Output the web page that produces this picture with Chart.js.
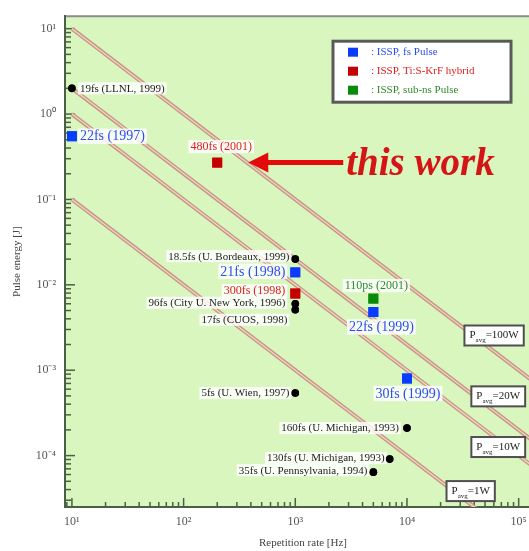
<!DOCTYPE html>
<html><head><meta charset="utf-8">
<script src="https://cdn.jsdelivr.net/npm/chart.js@4/dist/chart.umd.min.js"></script>
<style>html,body{margin:0;padding:0;overflow:hidden;background:#fff}</style>
</head><body>
<canvas id="c" width="548" height="551" style="width:548px;height:551px;display:block"></canvas>
<script>
const SERIF = '"Liberation Serif","Times New Roman",serif';

// ---------- data ----------
const isspFsLabels = ['22fs (1997)', '21fs (1998)', '22fs (1999)', '30fs (1999)'];
const isspFsRate   = [10, 1000, 5000, 10000];
const isspFsEnergy = [0.55, 0.014, 0.0048, 0.0008];

const hybridLabels = ['480fs (2001)', '300fs (1998)'];
const hybridRate   = [200, 1000];
const hybridEnergy = [0.27, 0.0079];

const subnsLabels = ['110ps (2001)'];
const subnsRate   = [5000];
const subnsEnergy = [0.0069];

const otherLabels = ['19fs (LLNL, 1999)', '18.5fs (U. Bordeaux, 1999)', '96fs (City U. New York, 1996)',
  '17fs (CUOS, 1998)', '5fs (U. Wien, 1997)', '160fs (U. Michigan, 1993)', '130fs (U. Michigan, 1993)',
  '35fs (U. Pennsylvania, 1994)'];
const otherRate   = [10, 1000, 1000, 1000, 1000, 10000, 7000, 5000];
const otherEnergy = [2.0, 0.020, 0.0060, 0.0051, 0.00054, 0.00021, 0.000091, 0.000064];

const legendLabels = [': ISSP, fs Pulse', ': ISSP, Ti:S-KrF hybrid', ': ISSP, sub-ns Pulse'];

// constant average-power lines: [rate, energy] end points
const powerNames = ['100W', '20W', '10W', '1W'];
const line100W = [[10, 10], [1.6e5, 6.25e-4]];
const line20W  = [[10, 2], [1.6e5, 1.25e-4]];
const line10W  = [[10, 1], [1.6e5, 6.25e-5]];
const line1W   = [[10, 0.1], [1.6e5, 6.25e-6]];

const xTickExp = [1, 2, 3, 4, 5];
const xTickLabels = ['10\u00B9', '10\u00B2', '10\u00B3', '10\u2074', '10\u2075'];
const yTickExp = [-4, -3, -2, -1, 0, 1];
const yTickLabels = ['10\u207B\u2074', '10\u207B\u00B3', '10\u207B\u00B2', '10\u207B\u00B9', '10\u2070', '10\u00B9'];

const xTitle = 'Repetition rate [Hz]';
const yTitle = 'Pulse energy [J]';
const annotationText = 'this work';

// ---------- styles / placement (not data) ----------
const isspFsPlace = [['right', 8, 0], ['left', 10, -1], ['below', 8, 15], ['below', 1, 15]];
const hybridPlace = [['above', 4, -16], ['left', 10, -3]];
const subnsPlace  = [['above', 3, -13]];
const otherPlace  = [['right', 8, 0], ['left', 6, -3], ['left', 10, -1], ['left', 8, 10],
  ['left', 6, 0], ['left', 8, 0], ['left', 5, -1], ['left', 6, -2]];
// box anchor (left-middle) of power labels, in data coords
const powerLabelAt = [[32700, 2.55e-3], [37700, 4.94e-4], [37700, 1.26e-4], [22600, 3.84e-5]];

const pts = (xs, ys) => xs.map((x, i) => ({x, y: ys[i]}));
const linePts = arr => arr.map(p => ({x: p[0], y: p[1]}));

function decadeTicks(min, max) {
  const out = [];
  for (let k = -6; k <= 6; k++) for (let d = 1; d <= 9; d++) {
    const v = d * Math.pow(10, k);
    if (v >= min * 0.9999 && v <= max * 1.0001) out.push({value: v, major: d === 1});
  }
  return out;
}
function isDecade(v) { const l = Math.log10(v); return Math.abs(l - Math.round(l)) < 1e-9; }

const LINE_OUT = 'rgb(198,150,132)', LINE_IN = 'rgb(244,212,200)';
const lineSets = [line100W, line20W, line10W, line1W];
const lineDatasets = [];
lineSets.forEach((L, i) => {
  lineDatasets.push({label: 'P' + powerNames[i], data: linePts(L), showLine: true, pointRadius: 0,
    borderColor: LINE_OUT, borderWidth: 4, order: 20, clip: 0, isLine: true});
  lineDatasets.push({label: 'P' + powerNames[i] + 'in', data: linePts(L), showLine: true, pointRadius: 0,
    borderColor: LINE_IN, borderWidth: 1.3, order: 19, clip: 0, isLine: true});
});

const datasets = [
  {label: legendLabels[0], data: pts(isspFsRate, isspFsEnergy), pointStyle: 'rect', pointRadius: 7,
   backgroundColor: '#0a3cff', borderColor: '#0a3cff', borderWidth: 0, order: 2,
   pointLabels: isspFsLabels, labelPlace: isspFsPlace, labelColor: '#2b4df2', labelSize: 14},
  {label: legendLabels[1], data: pts(hybridRate, hybridEnergy), pointStyle: 'rect', pointRadius: 7,
   backgroundColor: '#c40000', borderColor: '#c40000', borderWidth: 0, order: 2,
   pointLabels: hybridLabels, labelPlace: hybridPlace, labelColor: '#e01e1e', labelSize: 12},
  {label: legendLabels[2], data: pts(subnsRate, subnsEnergy), pointStyle: 'rect', pointRadius: 7,
   backgroundColor: '#0a8a0a', borderColor: '#0a8a0a', borderWidth: 0, order: 1,
   pointLabels: subnsLabels, labelPlace: subnsPlace, labelColor: '#2e8a2e', labelSize: 12},
  {label: 'others', data: pts(otherRate, otherEnergy), pointStyle: 'circle', pointRadius: 3.8,
   backgroundColor: '#000', borderColor: '#000', borderWidth: 0, order: 3,
   pointLabels: otherLabels, labelPlace: otherPlace, labelColor: '#222', labelSize: 11},
  ...lineDatasets
];

// ---------- plugins ----------
const plotBg = {
  id: 'plotBg',
  beforeDraw(chart) {
    const {ctx, chartArea: a} = chart;
    ctx.save();
    ctx.fillStyle = '#d9f6bf';
    ctx.fillRect(a.left, a.top, a.right - a.left, a.bottom - a.top);
    ctx.strokeStyle = '#8c8c8c'; ctx.lineWidth = 2;
    ctx.beginPath(); ctx.moveTo(a.left, a.top); ctx.lineTo(a.right, a.top); ctx.stroke();
    ctx.restore();
  }
};

const inwardTicks = {
  id: 'inwardTicks',
  beforeDatasetsDraw(chart) {
    const {ctx, chartArea: a, scales: {x, y}} = chart;
    ctx.save();
    ctx.strokeStyle = '#4b5f46'; ctx.lineWidth = 1.5;
    x.ticks.forEach(t => {
      const px = x.getPixelForValue(t.value);
      const len = isDecade(t.value) ? 9 : 5;
      ctx.beginPath(); ctx.moveTo(px, a.bottom); ctx.lineTo(px, a.bottom - len); ctx.stroke();
    });
    y.ticks.forEach(t => {
      const py = y.getPixelForValue(t.value);
      const len = isDecade(t.value) ? 10 : 6;
      ctx.beginPath(); ctx.moveTo(a.left, py); ctx.lineTo(a.left + len, py); ctx.stroke();
    });
    ctx.restore();
  }
};

function drawBoxText(ctx, txt, x, y, align, size, color) {
  ctx.font = size + 'px ' + SERIF;
  const w = ctx.measureText(txt).width;
  let lx = align === 'left' ? x : align === 'right' ? x - w : x - w / 2;
  ctx.fillStyle = 'rgba(255,255,255,0.82)';
  ctx.fillRect(lx - 2, y - size * 0.55, w + 4, size * 1.1);
  ctx.fillStyle = color;
  ctx.textBaseline = 'middle'; ctx.textAlign = 'left';
  ctx.fillText(txt, lx, y + 0.5);
}

const pointLabelsPlugin = {
  id: 'pointLabels',
  afterDatasetsDraw(chart) {
    const ctx = chart.ctx;
    ctx.save();
    // power label boxes
    const {x, y} = chart.scales;
    powerLabelAt.forEach((p, i) => {
      const px = x.getPixelForValue(p[0]), py = y.getPixelForValue(p[1]);
      ctx.font = '11px ' + SERIF;
      const wP = ctx.measureText('P').width;
      ctx.font = '7px ' + SERIF;
      const wS = ctx.measureText('avg').width;
      ctx.font = '11px ' + SERIF;
      const wR = ctx.measureText('=' + powerNames[i]).width;
      const w = wP + wS + wR + 10, h = 20;
      ctx.fillStyle = '#fff';
      ctx.fillRect(px, py - h / 2, w, h);
      ctx.strokeStyle = '#4f4f4f'; ctx.lineWidth = 2;
      ctx.strokeRect(px, py - h / 2, w, h);
      ctx.fillStyle = '#222'; ctx.textBaseline = 'alphabetic'; ctx.textAlign = 'left';
      ctx.font = '11px ' + SERIF; ctx.fillText('P', px + 5, py + 3);
      ctx.font = '7px ' + SERIF; ctx.fillText('avg', px + 5 + wP, py + 7);
      ctx.font = '11px ' + SERIF; ctx.fillText('=' + powerNames[i], px + 5 + wP + wS, py + 3);
    });
    // point labels
    chart.data.datasets.forEach((ds, di) => {
      if (!ds.pointLabels) return;
      const meta = chart.getDatasetMeta(di);
      meta.data.forEach((el, i) => {
        const [side, dx, dy] = ds.labelPlace[i];
        const txt = ds.pointLabels[i];
        if (side === 'right') drawBoxText(ctx, txt, el.x + dx, el.y + dy, 'left', ds.labelSize, ds.labelColor);
        else if (side === 'left') drawBoxText(ctx, txt, el.x - dx, el.y + dy, 'right', ds.labelSize, ds.labelColor);
        else drawBoxText(ctx, txt, el.x + dx, el.y + dy, 'center', ds.labelSize, ds.labelColor);
      });
    });
    // redraw markers on top of label boxes
    chart.data.datasets.forEach((ds, di) => {
      if (!ds.pointLabels) return;
      chart.getDatasetMeta(di).data.forEach(el => el.draw(ctx, chart.chartArea));
    });
    // "this work" arrow + text, anchored at the 480fs point
    const p = chart.getDatasetMeta(1).data[0];
    const tipX = p.x + 31, ay = p.y;
    ctx.fillStyle = '#e20a0a'; ctx.strokeStyle = '#e20a0a';
    ctx.lineWidth = 5;
    ctx.beginPath(); ctx.moveTo(tipX + 16, ay); ctx.lineTo(p.x + 126, ay); ctx.stroke();
    ctx.beginPath(); ctx.moveTo(tipX, ay); ctx.lineTo(tipX + 20, ay - 10); ctx.lineTo(tipX + 20, ay + 10); ctx.closePath(); ctx.fill();
    ctx.fillStyle = '#d41515';
    ctx.font = 'italic bold 39px ' + SERIF;
    ctx.textBaseline = 'alphabetic';
    ctx.fillText(annotationText, p.x + 129, ay + 12);
    // legend box
    const a = chart.chartArea;
    const bx = a.left + 268, by = a.top + 25, bw = 178, bh = 61;
    ctx.fillStyle = '#fff'; ctx.fillRect(bx, by, bw, bh);
    ctx.lineWidth = 3; ctx.strokeStyle = '#5a5a5a'; ctx.strokeRect(bx, by, bw, bh);
    [0, 1, 2].forEach(k => {
      const ds = chart.data.datasets[k];
      const yy = by + 11 + k * 19;
      ctx.fillStyle = ds.backgroundColor; ctx.fillRect(bx + 15, yy - 4.5, 10, 9);
      ctx.fillStyle = ds.labelColor; ctx.font = '11px ' + SERIF;
      ctx.textBaseline = 'middle'; ctx.fillText(ds.label, bx + 38, yy);
    });
    ctx.restore();
  }
};

Chart.defaults.font.family = SERIF;

new Chart(document.getElementById('c'), {
  type: 'scatter',
  data: {datasets},
  options: {
    responsive: false, animation: false, devicePixelRatio: 1,
    layout: {padding: {top: 15, right: 3, left: 0, bottom: 0}},
    plugins: {legend: {display: false}, tooltip: {enabled: false}},
    scales: {
      x: {
        type: 'logarithmic', min: 8.67, max: Math.pow(10, 5.2), bounds: 'data',
        afterBuildTicks: s => { s.ticks = decadeTicks(s.min, s.max); },
        afterFit: s => { s.height = 44; },
        grid: {display: false, drawTicks: false},
        border: {display: true, color: '#4b5f46', width: 2},
        ticks: {autoSkip: false, maxRotation: 0, padding: 8, color: '#555', font: {size: 12},
          callback: v => { if (!isDecade(v)) return ''; const i = xTickExp.indexOf(Math.round(Math.log10(v))); return i >= 0 ? xTickLabels[i] : ''; }},
        title: {display: true, text: xTitle, color: '#444', font: {size: 11}, padding: {top: 0, bottom: 1}}
      },
      y: {
        type: 'logarithmic', min: 2.5e-5, max: 14, bounds: 'data',
        afterBuildTicks: s => { s.ticks = decadeTicks(s.min, s.max); },
        afterFit: s => { s.width = 65; },
        grid: {display: false, drawTicks: false},
        border: {display: true, color: '#4b5f46', width: 2},
        ticks: {autoSkip: false, padding: 9, color: '#555', font: {size: 12},
          callback: v => { if (!isDecade(v)) return ''; const i = yTickExp.indexOf(Math.round(Math.log10(v))); return i >= 0 ? yTickLabels[i] : ''; }},
        title: {display: true, text: yTitle, color: '#444', font: {size: 11}, padding: {top: 11, bottom: 0}}
      }
    }
  },
  plugins: [plotBg, inwardTicks, pointLabelsPlugin]
});
</script>
</body></html>
